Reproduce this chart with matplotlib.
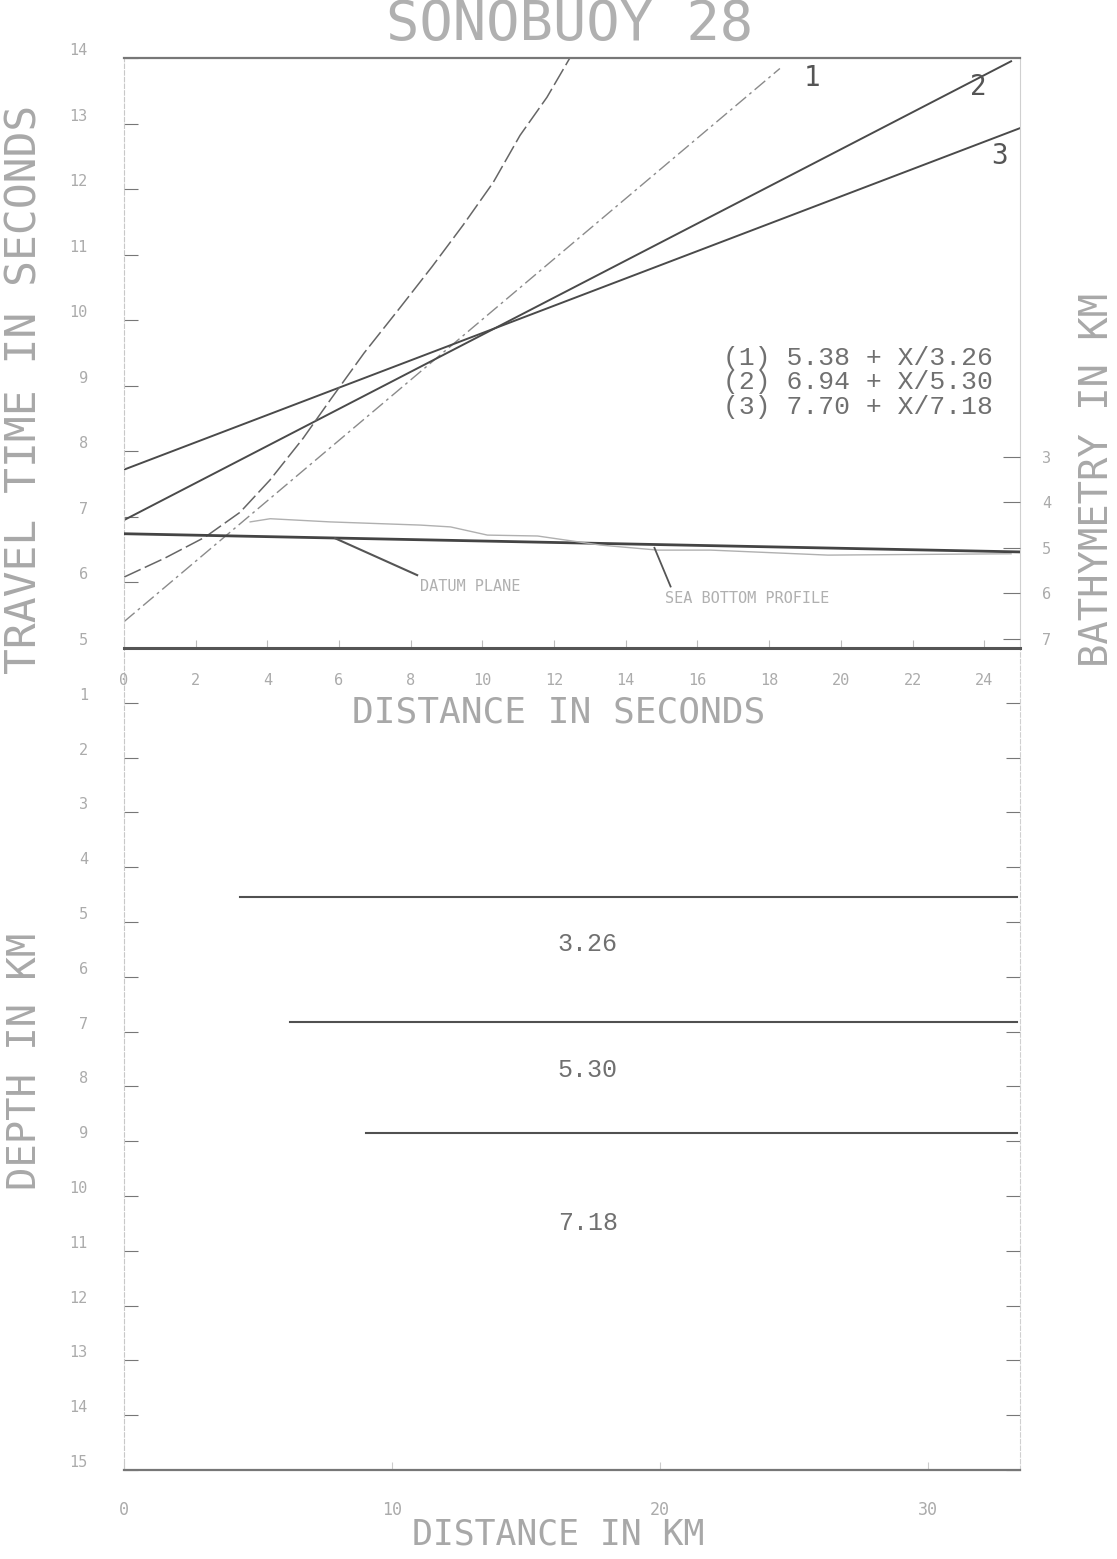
import matplotlib
matplotlib.use("Agg")
import matplotlib.pyplot as plt

# travel time curves, (distance in seconds, travel time in seconds)
line1_x = [0.0, 18.3]
line1_t = [5.40, 13.84]
line2_x = [0.0, 24.75]
line2_t = [6.95, 13.95]
line3_x = [0.0, 25.0]
line3_t = [7.72, 12.93]
curve_x = [0.0, 1.14, 2.26, 3.24, 4.07, 5.0, 5.75, 6.7, 7.70, 8.6, 9.46, 10.3, 11.05, 11.8, 12.44]
curve_t = [6.08, 6.37, 6.69, 7.07, 7.56, 8.2, 8.78, 9.5, 10.19, 10.82, 11.45, 12.1, 12.82, 13.4, 14.0]

# bathymetry (km) vs distance in seconds
datum_x = [0.0, 12.5, 25.0]
datum_d = [4.69, 4.89, 5.09]
bottom_x = [3.52, 4.08, 5.75, 8.27, 9.11, 10.14, 11.54, 13.3, 14.89, 16.37, 19.64, 24.75]
bottom_d = [4.43, 4.36, 4.43, 4.50, 4.54, 4.72, 4.74, 4.94, 5.05, 5.05, 5.16, 5.13]

equations = ["(1) 5.38 + X/3.26", "(2) 6.94 + X/5.30", "(3) 7.70 + X/7.18"]

# layer model: start distance (km), depth (km), velocity below
layer_start = [4.33, 6.19, 9.03]
layer_depth = [4.54, 6.82, 8.85]
velocities = ["3.26", "5.30", "7.18"]
vel_label_depth = [5.4, 7.7, 10.5]

dark = "#4a4a4a"
light = "#ababab"
mono = "DejaVu Sans Mono"

fig = plt.figure(figsize=(11.17, 15.59), dpi=100)

# ---- bottom panel: depth model (drawn first, transparent) ----
ax2 = fig.add_axes([0.111, 0.0571, 0.8022, 0.5273])
ax2.patch.set_visible(False)
ax2.set_xlim(0, 33.43)
ax2.set_ylim(15, 0)
for xs, d in zip(layer_start, layer_depth):
    ax2.plot([xs, 33.3], [d, d], color="#505050", lw=1.5)
for v, d in zip(velocities, vel_label_depth):
    ax2.text(17.3, d, v, fontsize=18, color="#707070", family="Liberation Mono",
             ha="center", va="center")

ax2.set_xticks([0, 10, 20, 30])
ax2.set_yticks(range(1, 16))
ax2.tick_params(axis="x", direction="in", length=6, color="#cccccc",
                labelcolor=light, labelsize=12, pad=22)
ax2.tick_params(axis="y", direction="in", length=10, color="#777777",
                labelcolor=light, labelsize=11, pad=26, right=True)
ax2.tick_params(axis="y", which="both", labelright=False)
for lab in ax2.get_xticklabels() + ax2.get_yticklabels():
    lab.set_family(mono)
for lab in ax2.get_yticklabels():
    lab.set_va("bottom")
ax2.spines["top"].set_visible(False)
ax2.spines["bottom"].set_color("#777777")
ax2.spines["bottom"].set_linewidth(1.6)
ax2.spines["bottom"].set_linestyle((0, (6, 1)))
ax2.spines["left"].set_color("#c8c8c8")
ax2.spines["left"].set_linestyle((0, (4, 2)))
ax2.spines["right"].set_color("#d0d0d0")
ax2.spines["right"].set_linestyle((0, (4, 2)))

# ---- top panel: travel time ----
ax = fig.add_axes([0.111, 0.5844, 0.8022, 0.3784])
ax.set_xlim(0, 25)
ax.set_ylim(5, 14)

ax.plot(line1_x, line1_t, color="#8a8a8a", lw=1.0, ls=(0, (10, 3, 2, 3)))
ax.plot(line2_x, line2_t, color=dark, lw=1.4)
ax.plot(line3_x, line3_t, color=dark, lw=1.4)
ax.plot(curve_x, curve_t, color="#666666", lw=1.1, ls=(0, (12, 3)))

ax.text(18.95, 13.7, "1", fontsize=20, color="#555555", family=mono, va="center")
ax.text(23.6, 13.55, "2", fontsize=20, color="#555555", family=mono, va="center")
ax.text(24.2, 12.5, "3", fontsize=20, color="#555555", family=mono, va="center")

for i, eq in enumerate(equations):
    ax.text(16.7, 9.43 - i * 0.38, eq, fontsize=19, color="#707070",
            family="Liberation Mono", va="center")

ax.set_xticks(range(0, 25, 2))
ax.set_yticks(range(5, 15))
ax.tick_params(axis="x", direction="in", length=6, color="#bbbbbb",
               labelcolor=light, labelsize=11, pad=18)
ax.tick_params(axis="y", direction="in", length=10, color="#777777",
               labelcolor=light, labelsize=11, pad=26)
for lab in ax.get_xticklabels() + ax.get_yticklabels():
    lab.set_family(mono)
for lab in ax.get_yticklabels():
    lab.set_va("bottom")
ax.spines["top"].set_color("#777777")
ax.spines["top"].set_linewidth(1.6)
ax.spines["bottom"].set_color("#555555")
ax.spines["bottom"].set_linewidth(2.2)
ax.spines["left"].set_color("#c8c8c8")
ax.spines["left"].set_linestyle((0, (4, 2)))
ax.spines["right"].set_color("#d0d0d0")
ax.patch.set_visible(False)

# bathymetry on the right
bx = ax.twinx()
bx.set_ylim(7.2, 7.2 - 590 / 45.5)
bx.plot(datum_x, datum_d, color="#444444", lw=2.0)
bx.plot(bottom_x, bottom_d, color="#b0b0b0", lw=1.0)
bx.plot([5.89, 8.18], [4.79, 5.60], color="#555555", lw=1.5)
bx.text(8.25, 5.85, "DATUM PLANE", fontsize=11, color="#b0b0b0", family=mono, va="center")
bx.plot([14.8, 15.25], [5.0, 5.85], color="#555555", lw=1.3)
bx.text(15.1, 6.12, "SEA BOTTOM PROFILE", fontsize=11, color="#b0b0b0", family=mono, va="center")
bx.set_yticks([3, 4, 5, 6, 7])
bx.tick_params(axis="y", direction="in", length=12, color="#777777",
               labelcolor=light, labelsize=11, pad=16)
for lab in bx.get_yticklabels():
    lab.set_family(mono)
for s in bx.spines.values():
    s.set_visible(False)

fig.text(0.51, 0.984, "SONOBUOY 28", fontsize=40, color="#b0b0b0", family=mono,
         ha="center", va="center")
fig.text(0.022, 0.75, "TRAVEL TIME IN SECONDS", fontsize=31, color="#a8a8a8",
         family=mono, rotation=90, ha="center", va="center")
fig.text(0.982, 0.692, "BATHYMETRY IN KM", fontsize=28, color="#a8a8a8",
         family=mono, rotation=90, ha="center", va="center")
fig.text(0.50, 0.543, "DISTANCE IN SECONDS", fontsize=26, color="#a8a8a8",
         family=mono, ha="center", va="center")
fig.text(0.022, 0.319, "DEPTH IN KM", fontsize=28, color="#a8a8a8",
         family=mono, rotation=90, ha="center", va="center")
fig.text(0.50, 0.016, "DISTANCE IN KM", fontsize=25, color="#a8a8a8",
         family=mono, ha="center", va="center")

fig.savefig("out.png", dpi=100, facecolor="white")
